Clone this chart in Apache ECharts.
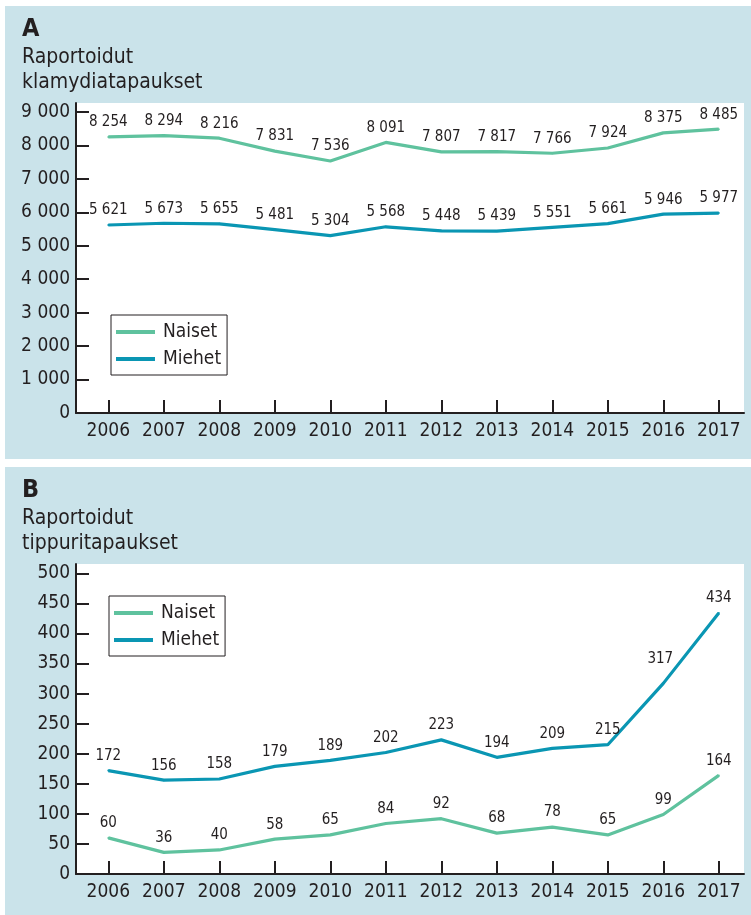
<!DOCTYPE html>
<html><head><meta charset="utf-8">
<script src="https://cdn.jsdelivr.net/npm/echarts@6/dist/echarts.min.js"></script>
<style>html,body{margin:0;padding:0;background:#fff;}#c{width:751px;height:915px;}</style>
</head><body><div id="c"></div>
<script>
const years = [2006,2007,2008,2009,2010,2011,2012,2013,2014,2015,2016,2017];
const klamNaiset = [8254,8294,8216,7831,7536,8091,7807,7817,7766,7924,8375,8485];
const klamMiehet = [5621,5673,5655,5481,5304,5568,5448,5439,5551,5661,5946,5977];
const tipNaiset = [60,36,40,58,65,84,92,68,78,65,99,164];
const tipMiehet = [172,156,158,179,189,202,223,194,209,215,317,434];
const yTicksA = [0,1000,2000,3000,4000,5000,6000,7000,8000,9000];
const yTicksB = [0,50,100,150,200,250,300,350,400,450,500];

const FONT = '"Liberation Sans Narrow","DejaVu Sans Condensed","Open Sans",sans-serif';
const BG = '#cae3ea';
const C_N = '#5fc29e';
const C_M = '#0a96b3';
const TXT = '#231f20';
const fmt = v => v >= 1000 ? Math.floor(v/1000) + ' ' + String(v % 1000).padStart(3,'0') : String(v);
const pairs = arr => arr.map((v,i) => [years[i], v]);

function xAxis(gi){
  return {type:'value', gridIndex:gi, min:2005.418, max:2017.454,
    axisLine:{show:true, onZero:false, lineStyle:{color:TXT, width:2}},
    axisTick:{show:true, inside:true, length:13, customValues:years, lineStyle:{color:TXT, width:2}},
    axisLabel:{customValues:years, margin:9, fontSize:19, color:TXT, fontFamily:FONT, formatter:v=>String(v)},
    splitLine:{show:false}};
}
function yAxis(gi, max, ticks){
  return {type:'value', gridIndex:gi, min:0, max:max,
    axisLine:{show:true, lineStyle:{color:TXT, width:2}},
    axisTick:{show:true, inside:true, length:13, customValues:ticks, lineStyle:{color:TXT, width:2}},
    axisLabel:{customValues:ticks, margin:6, fontSize:19, color:TXT, fontFamily:FONT, formatter:fmt},
    splitLine:{show:false}};
}
function series(name, data, color, gi){
  return {name:name, type:'line', xAxisIndex:gi, yAxisIndex:gi, data:pairs(data),
    symbol:'circle', symbolSize:2, showSymbol:true, lineStyle:{color:color, width:3.2}, itemStyle:{color:color}, animation:false,
    label:{show:true, position:'top', distance:6, fontSize:15, color:TXT, fontFamily:FONT,
      formatter:p=>fmt(p.value[1])}};
}
function legend(left, top){
  return {orient:'vertical', left:left, top:top, icon:'rect', itemWidth:39, itemHeight:4, itemGap:7,
    padding:[7,6,6,5], borderColor:TXT, borderWidth:1, backgroundColor:'#fff',
    textStyle:{fontSize:19, lineHeight:20, color:TXT, fontFamily:FONT, padding:[0,0,0,3]},
    data:['Naiset','Miehet']};
}

const sB_M = series('Miehet', tipMiehet, C_M, 1);
sB_M.data[10] = {value: sB_M.data[10], label:{offset:[-3,-10]}};

const chart = echarts.init(document.getElementById('c'), null, {renderer:'canvas'});
chart.setOption({
  backgroundColor:'#fff',
  animation:false,
  graphic:[
    {type:'rect', shape:{x:5, y:6, width:746, height:453}, style:{fill:BG}, z:-10},
    {type:'rect', shape:{x:5, y:467, width:746, height:448}, style:{fill:BG}, z:-10}
  ],
  title:[
    {text:'A', left:22, top:17, textStyle:{fontSize:25, fontWeight:'bold', color:TXT, fontFamily:FONT}, padding:0},
    {text:'Raportoidut\nklamydiatapaukset', left:22, top:45, padding:0, textStyle:{fontSize:21, lineHeight:25, fontWeight:'normal', color:TXT, fontFamily:FONT}},
    {text:'B', left:22, top:478, textStyle:{fontSize:25, fontWeight:'bold', color:TXT, fontFamily:FONT}, padding:0},
    {text:'Raportoidut\ntippuritapaukset', left:22, top:506, padding:0, textStyle:{fontSize:21, lineHeight:25, fontWeight:'normal', color:TXT, fontFamily:FONT}}
  ],
  grid:[
    {left:76, top:103, width:668, height:310, show:true, backgroundColor:'#fff', borderWidth:0},
    {left:76, top:564, width:668, height:310, show:true, backgroundColor:'#fff', borderWidth:0}
  ],
  xAxis:[xAxis(0), xAxis(1)],
  yAxis:[yAxis(0, 9269, yTicksA), yAxis(1, 515.5, yTicksB)],
  legend:[legend(111, 315), legend(109, 596)],
  series:[
    series('Naiset', klamNaiset, C_N, 0),
    series('Miehet', klamMiehet, C_M, 0),
    series('Naiset', tipNaiset, C_N, 1),
    sB_M
  ]
});
</script></body></html>
